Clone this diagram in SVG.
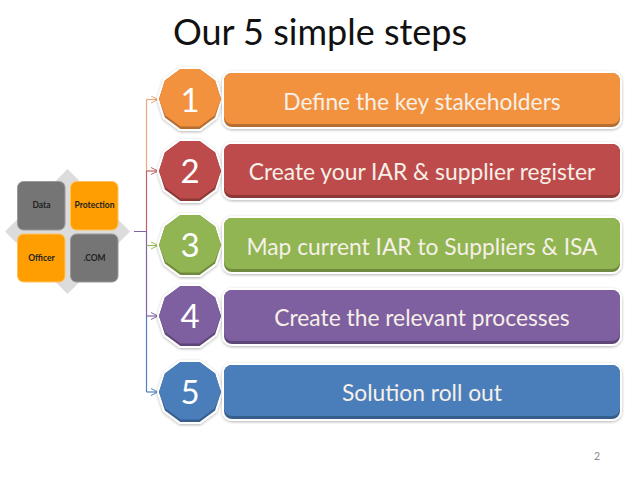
<svg xmlns="http://www.w3.org/2000/svg" width="638" height="478" viewBox="0 0 638 478">
<style>
text{font-family:"Lato","Carlito","Open Sans",sans-serif;text-anchor:middle}
.title{font-size:36px;fill:#111}
.lbl{font-size:22.800px;fill:#f6f0e8}
.num{font-size:33px;fill:#fff}
.sm{font-size:8.500px;fill:#222;font-weight:700}
.page{font-size:10.500px;fill:#888}
.halo{fill:#fff;stroke:#fff;stroke-width:4;filter:url(#sh)}
.c{fill:none;stroke-width:1.200}
.sq{stroke-width:1}
.g{fill:#757575;stroke:#999}
.o{fill:#ff9e00;stroke:#ffc35e}
</style>
<defs>
<filter id="sh" x="-15%" y="-15%" width="130%" height="130%"><feGaussianBlur in="SourceAlpha" stdDeviation="1.600"/><feOffset dy="0.500"/><feComponentTransfer><feFuncA type="linear" slope="0.300"/></feComponentTransfer><feMerge><feMergeNode/><feMergeNode in="SourceGraphic"/></feMerge></filter>
<polygon id="dec" points="31,0 25.100,18.500 9.600,30 -9.600,30 -25.100,18.500 -31,0 -25.100,-18.500 -9.600,-30 9.600,-30 25.100,-18.500"/>
<polygon id="deci" points="31,0 24.600,16.500 9.400,27.500 -9.400,27.500 -24.600,16.500 -31,0 -25.100,-18.500 -9.600,-30 9.600,-30 25.100,-18.500"/>
<rect id="bar" x="0" y="0" width="396" height="54" rx="8"/>
<rect id="bari" x="0" y="0" width="396" height="51" rx="8"/>
<marker id="a1" markerWidth="9" markerHeight="9" refX="8" refY="4" orient="auto" markerUnits="userSpaceOnUse"><path d="M1,0.500L8,4L1,7.500" fill="none" stroke="#e8a878"/></marker>
<marker id="a2" markerWidth="9" markerHeight="9" refX="8" refY="4" orient="auto" markerUnits="userSpaceOnUse"><path d="M1,0.500L8,4L1,7.500" fill="none" stroke="#c06060"/></marker>
<marker id="a3" markerWidth="9" markerHeight="9" refX="8" refY="4" orient="auto" markerUnits="userSpaceOnUse"><path d="M1,0.500L8,4L1,7.500" fill="none" stroke="#9bbb59"/></marker>
<marker id="a4" markerWidth="9" markerHeight="9" refX="8" refY="4" orient="auto" markerUnits="userSpaceOnUse"><path d="M1,0.500L8,4L1,7.500" fill="none" stroke="#8064a2"/></marker>
<marker id="a5" markerWidth="9" markerHeight="9" refX="8" refY="4" orient="auto" markerUnits="userSpaceOnUse"><path d="M1,0.500L8,4L1,7.500" fill="none" stroke="#4f81bd"/></marker>
</defs>
<rect width="638" height="478" fill="#fff"/>
<text id="title" class="title" x="320" y="45">Our 5 simple steps</text>

<g id="connectors">
<path class="c" d="M146.500 99.500V171" stroke="#e8a878"/>
<path class="c" d="M146.500 171V231" stroke="#c06060"/>
<path class="c" d="M134 231.500H146.500V316" stroke="#8064a2"/>
<path class="c" d="M146.500 316V392" stroke="#4f81bd"/>
<path class="c" d="M146.500 99.500H158" stroke="#e8a878" marker-end="url(#a1)"/>
<path class="c" d="M146.500 171H158" stroke="#c06060" marker-end="url(#a2)"/>
<path class="c" d="M146.500 245.500H158" stroke="#9bbb59" marker-end="url(#a3)"/>
<path class="c" d="M146.500 316H158" stroke="#8064a2" marker-end="url(#a4)"/>
<path class="c" d="M146.500 392H158" stroke="#4f81bd" marker-end="url(#a5)"/>
</g>

<g id="matrix">
<polygon points="67.500,169 130,231.500 67.500,294 5,231.500" fill="#dcdcdc"/>
<rect class="sq g" x="17.500" y="181.500" width="47.500" height="48.500" rx="6"/>
<rect class="sq o" x="70.500" y="181.500" width="47.500" height="48.500" rx="6"/>
<rect class="sq o" x="17.500" y="234" width="47.500" height="48" rx="6"/>
<rect class="sq g" x="70.500" y="234" width="47.500" height="48" rx="6"/>
<text class="sm" x="41.500" y="208">Data</text>
<text class="sm" x="94.500" y="208">Protection</text>
<text class="sm" x="41.500" y="261">Officer</text>
<text class="sm" x="94.500" y="261">.COM</text>
</g>

<g id="step1">
<g transform="translate(190 99)"><use href="#dec" class="halo"/><use href="#dec" fill="#b66d31"/><use href="#deci" fill="#f2923f"/></g>
<text class="num" x="190" y="112">1</text>
<g transform="translate(224 73)"><use href="#bar" class="halo"/><use href="#bar" fill="#b66d31"/><use href="#bari" fill="#f2923f"/></g>
<text class="lbl" x="422" y="110">Define the key stakeholders</text>
</g>
<g id="step2">
<g transform="translate(190 171)"><use href="#dec" class="halo"/><use href="#dec" fill="#8c3836"/><use href="#deci" fill="#bd4b4b"/></g>
<text class="num" x="190" y="183">2</text>
<g transform="translate(224 144)"><use href="#bar" class="halo"/><use href="#bar" fill="#8c3836"/><use href="#bari" fill="#bd4b4b"/></g>
<text class="lbl" x="422" y="180">Create your IAR &amp; supplier register</text>
</g>
<g id="step3">
<g transform="translate(190 245)"><use href="#dec" class="halo"/><use href="#dec" fill="#6f8a3e"/><use href="#deci" fill="#90b552"/></g>
<text class="num" x="190" y="257">3</text>
<g transform="translate(224 218)"><use href="#bar" class="halo"/><use href="#bar" fill="#6f8a3e"/><use href="#bari" fill="#90b552"/></g>
<text class="lbl" x="422" y="255">Map current IAR to Suppliers &amp; ISA</text>
</g>
<g id="step4">
<g transform="translate(190 316)"><use href="#dec" class="halo"/><use href="#dec" fill="#5c4777"/><use href="#deci" fill="#7e5f9f"/></g>
<text class="num" x="190" y="328">4</text>
<g transform="translate(224 290)"><use href="#bar" class="halo"/><use href="#bar" fill="#5c4777"/><use href="#bari" fill="#7e5f9f"/></g>
<text class="lbl" x="422" y="326">Create the relevant processes</text>
</g>
<g id="step5">
<g transform="translate(190 392)"><use href="#dec" class="halo"/><use href="#dec" fill="#365d8c"/><use href="#deci" fill="#4a7ebb"/></g>
<text class="num" x="190" y="404">5</text>
<g transform="translate(224 365)"><use href="#bar" class="halo"/><use href="#bar" fill="#365d8c"/><use href="#bari" fill="#4a7ebb"/></g>
<text class="lbl" x="422" y="401">Solution roll out</text>
</g>
<text id="page" class="page" x="597" y="460">2</text>
</svg>
